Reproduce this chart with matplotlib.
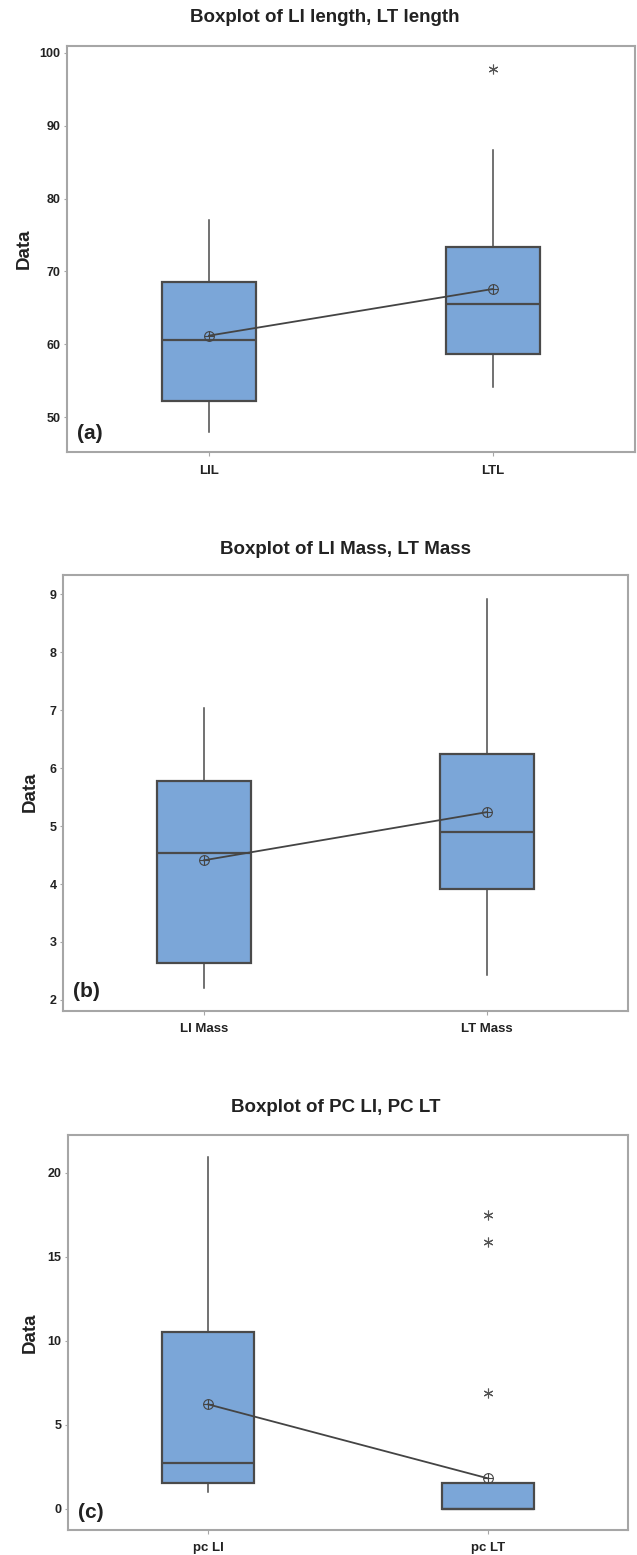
import matplotlib
matplotlib.use('Agg')
import matplotlib.pyplot as plt

# panel (a) - length
a_names = ['LIL', 'LTL']
a_low = [48.0, 54.1]
a_q1 = [52.2, 58.7]
a_med = [60.6, 65.5]
a_q3 = [68.6, 73.4]
a_high = [77.0, 86.7]
a_mean = [61.2, 67.6]
a_out = [[], [97.8]]
a_ticks = [50, 60, 70, 80, 90, 100]

# panel (b) - mass
b_names = ['LI Mass', 'LT Mass']
b_low = [2.2, 2.43]
b_q1 = [2.63, 3.91]
b_med = [4.54, 4.89]
b_q3 = [5.77, 6.24]
b_high = [7.03, 8.91]
b_mean = [4.41, 5.24]
b_out = [[], []]
b_ticks = [2, 3, 4, 5, 6, 7, 8, 9]

# panel (c) - pc
c_names = ['pc LI', 'pc LT']
c_low = [1.0, 0.0]
c_q1 = [1.51, 0.0]
c_med = [2.74, 0.0]
c_q3 = [10.5, 1.51]
c_high = [20.95, 1.51]
c_mean = [6.21, 1.8]
c_out = [[], [6.9, 15.9, 17.45]]
c_ticks = [0, 5, 10, 15, 20]

W, H = 637, 1555
fig = plt.figure(figsize=(W / 100, H / 100), dpi=100)

fam = ['Liberation Sans', 'DejaVu Sans']
boxblue = '#7ba6d8'
edge = '#4a4a4a'
frame = '#a6a6a6'
txt = '#222222'

# pixel boxes of the three axes: left, top, right, bottom
panels = [
    dict(px=(67, 46, 635, 452), ylim=(45.24, 100.92), names=a_names, low=a_low, q1=a_q1,
         med=a_med, q3=a_q3, high=a_high, mean=a_mean, out=a_out, ticks=a_ticks,
         title='Boxplot of LI length, LT length', tpos=(325, 18), lab='(a)', ylab=(24, 249)),
    dict(px=(62.7, 575, 628.3, 1010.7), ylim=(1.815, 9.33), names=b_names, low=b_low, q1=b_q1,
         med=b_med, q3=b_q3, high=b_high, mean=b_mean, out=b_out, ticks=b_ticks,
         title='Boxplot of LI Mass, LT Mass', tpos=(345, 549), lab='(b)', ylab=(30, 792)),
    dict(px=(68, 1135, 628.3, 1530), ylim=(-1.27, 22.24), names=c_names, low=c_low, q1=c_q1,
         med=c_med, q3=c_q3, high=c_high, mean=c_mean, out=c_out, ticks=c_ticks,
         title='Boxplot of PC LI, PC LT', tpos=(336, 1108), lab='(c)', ylab=(30, 1333)),
]

for p in panels:
    l, t, r, b = p['px']
    ax = fig.add_axes([l / W, 1 - b / H, (r - l) / W, (b - t) / H])

    stats = []
    for i in range(2):
        stats.append(dict(whislo=p['low'][i], q1=p['q1'][i], med=p['med'][i],
                          q3=p['q3'][i], whishi=p['high'][i], fliers=p['out'][i]))
    ax.bxp(stats, positions=[1, 2], widths=0.33, patch_artist=True, showcaps=False,
           boxprops=dict(facecolor=boxblue, edgecolor=edge, linewidth=1.6),
           medianprops=dict(color=edge, linewidth=1.6),
           whiskerprops=dict(color=edge, linewidth=1.1),
           flierprops=dict(marker=(6, 2, 0), markersize=7, markeredgecolor='#555555',
                           markeredgewidth=0.8, linestyle='none'))

    # means connected by a line, circle with a cross
    ax.plot([1, 2], p['mean'], color='#444444', linewidth=1.3, zorder=4)
    ax.plot([1, 2], p['mean'], linestyle='none', marker='o', markersize=7,
            markerfacecolor='none', markeredgecolor='#444444', markeredgewidth=0.8, zorder=5)
    ax.plot([1, 2], p['mean'], linestyle='none', marker='+', markersize=7,
            markeredgecolor='#444444', markeredgewidth=0.8, zorder=5)

    ax.set_xlim(0.5, 2.5)
    ax.set_ylim(p['ylim'])
    ax.set_yticks(p['ticks'])
    ax.set_xticks([1, 2])
    ax.set_xticklabels(p['names'], family=fam, fontweight='bold', fontsize=9.5)
    ax.set_yticklabels([str(v) for v in p['ticks']], family=fam, fontweight='bold', fontsize=9)
    ax.tick_params(axis='y', length=2.5, width=0.8, color=frame, pad=2, labelcolor=txt)
    ax.tick_params(axis='x', length=3, width=0.8, color=frame, pad=6, labelcolor=txt)
    for s in ax.spines.values():
        s.set_color(frame)
        s.set_linewidth(1.5)

    ax.text(0.0176, 0.045, p['lab'], transform=ax.transAxes, fontsize=15,
            family=fam, fontweight='bold', color=txt, va='center', ha='left')

    fig.text(p['tpos'][0] / W, 1 - p['tpos'][1] / H, p['title'], family=fam,
             fontweight='bold', fontsize=13.5, ha='center', va='center', color=txt)
    fig.text(p['ylab'][0] / W, 1 - p['ylab'][1] / H, 'Data', rotation=90, fontsize=13.5,
             family=fam, fontweight='bold', ha='center', va='center', color=txt)

fig.savefig('out.png', dpi=100)
